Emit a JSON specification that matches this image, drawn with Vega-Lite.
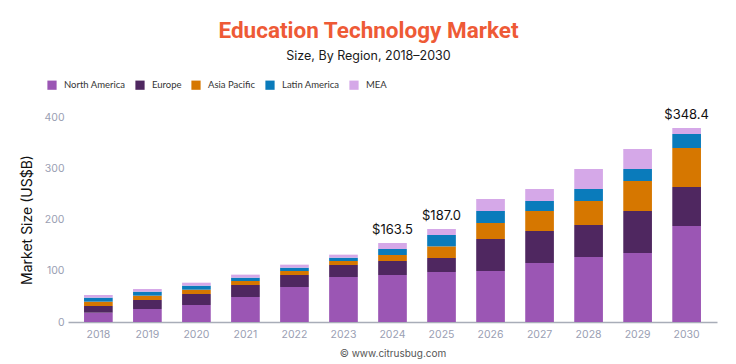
{
  "$schema": "https://vega.github.io/schema/vega-lite/v6.json",
  "width": 649,
  "height": 205,
  "autosize": {"type": "none"},
  "padding": {"left": 68, "top": 117, "right": 19, "bottom": 42},
  "background": "white",
  "config": {"view": {"stroke": null}, "font": "Inter"},
  "title": {
    "text": "Education Technology Market",
    "subtitle": "Size, By Region, 2018–2030",
    "anchor": "middle",
    "dx": -24,
    "offset": 18,
    "font": "Roboto",
    "fontSize": 22.5,
    "fontWeight": 700,
    "color": "#ee5a36",
    "subtitleFont": "Inter",
    "subtitleFontSize": 12.5,
    "subtitleColor": "#1a1a1a",
    "subtitlePadding": 7
  },
  "datasets": {
    "bars": [
      {"year": "2018", "region": "North America", "ord": 1, "value": 18.2},
      {"year": "2018", "region": "Europe", "ord": 2, "value": 13.0},
      {"year": "2018", "region": "Asia Pacific", "ord": 3, "value": 8.5},
      {"year": "2018", "region": "Latin America", "ord": 4, "value": 7.8},
      {"year": "2018", "region": "MEA", "ord": 5, "value": 5.2},
      {"year": "2019", "region": "North America", "ord": 1, "value": 25.4},
      {"year": "2019", "region": "Europe", "ord": 2, "value": 17.5},
      {"year": "2019", "region": "Asia Pacific", "ord": 3, "value": 8.5},
      {"year": "2019", "region": "Latin America", "ord": 4, "value": 7.8},
      {"year": "2019", "region": "MEA", "ord": 5, "value": 5.2},
      {"year": "2020", "region": "North America", "ord": 1, "value": 33.2},
      {"year": "2020", "region": "Europe", "ord": 2, "value": 21.4},
      {"year": "2020", "region": "Asia Pacific", "ord": 3, "value": 8.5},
      {"year": "2020", "region": "Latin America", "ord": 4, "value": 7.8},
      {"year": "2020", "region": "MEA", "ord": 5, "value": 5.8},
      {"year": "2021", "region": "North America", "ord": 1, "value": 48.8},
      {"year": "2021", "region": "Europe", "ord": 2, "value": 23.4},
      {"year": "2021", "region": "Asia Pacific", "ord": 3, "value": 7.8},
      {"year": "2021", "region": "Latin America", "ord": 4, "value": 6.5},
      {"year": "2021", "region": "MEA", "ord": 5, "value": 5.9},
      {"year": "2022", "region": "North America", "ord": 1, "value": 68.3},
      {"year": "2022", "region": "Europe", "ord": 2, "value": 23.4},
      {"year": "2022", "region": "Asia Pacific", "ord": 3, "value": 7.8},
      {"year": "2022", "region": "Latin America", "ord": 4, "value": 6.5},
      {"year": "2022", "region": "MEA", "ord": 5, "value": 5.9},
      {"year": "2023", "region": "North America", "ord": 1, "value": 87.8},
      {"year": "2023", "region": "Europe", "ord": 2, "value": 23.4},
      {"year": "2023", "region": "Asia Pacific", "ord": 3, "value": 7.8},
      {"year": "2023", "region": "Latin America", "ord": 4, "value": 6.5},
      {"year": "2023", "region": "MEA", "ord": 5, "value": 5.9},
      {"year": "2024", "region": "North America", "ord": 1, "value": 91.7},
      {"year": "2024", "region": "Europe", "ord": 2, "value": 27.3},
      {"year": "2024", "region": "Asia Pacific", "ord": 3, "value": 11.7},
      {"year": "2024", "region": "Latin America", "ord": 4, "value": 11.7},
      {"year": "2024", "region": "MEA", "ord": 5, "value": 11.7},
      {"year": "2025", "region": "North America", "ord": 1, "value": 97.6},
      {"year": "2025", "region": "Europe", "ord": 2, "value": 27.3},
      {"year": "2025", "region": "Asia Pacific", "ord": 3, "value": 22.7},
      {"year": "2025", "region": "Latin America", "ord": 4, "value": 22.2},
      {"year": "2025", "region": "MEA", "ord": 5, "value": 11.7},
      {"year": "2026", "region": "North America", "ord": 1, "value": 99.5},
      {"year": "2026", "region": "Europe", "ord": 2, "value": 62.5},
      {"year": "2026", "region": "Asia Pacific", "ord": 3, "value": 31.2},
      {"year": "2026", "region": "Latin America", "ord": 4, "value": 23.4},
      {"year": "2026", "region": "MEA", "ord": 5, "value": 23.4},
      {"year": "2027", "region": "North America", "ord": 1, "value": 115.1},
      {"year": "2027", "region": "Europe", "ord": 2, "value": 62.5},
      {"year": "2027", "region": "Asia Pacific", "ord": 3, "value": 39.0},
      {"year": "2027", "region": "Latin America", "ord": 4, "value": 19.5},
      {"year": "2027", "region": "MEA", "ord": 5, "value": 23.4},
      {"year": "2028", "region": "North America", "ord": 1, "value": 126.8},
      {"year": "2028", "region": "Europe", "ord": 2, "value": 62.5},
      {"year": "2028", "region": "Asia Pacific", "ord": 3, "value": 46.8},
      {"year": "2028", "region": "Latin America", "ord": 4, "value": 23.4},
      {"year": "2028", "region": "MEA", "ord": 5, "value": 39.0},
      {"year": "2029", "region": "North America", "ord": 1, "value": 134.6},
      {"year": "2029", "region": "Europe", "ord": 2, "value": 82.0},
      {"year": "2029", "region": "Asia Pacific", "ord": 3, "value": 58.5},
      {"year": "2029", "region": "Latin America", "ord": 4, "value": 23.4},
      {"year": "2029", "region": "MEA", "ord": 5, "value": 39.1},
      {"year": "2030", "region": "North America", "ord": 1, "value": 187.3},
      {"year": "2030", "region": "Europe", "ord": 2, "value": 76.1},
      {"year": "2030", "region": "Asia Pacific", "ord": 3, "value": 76.1},
      {"year": "2030", "region": "Latin America", "ord": 4, "value": 27.3},
      {"year": "2030", "region": "MEA", "ord": 5, "value": 11.7}
    ],
    "labels": [
      {"year": "2024", "top": 154.1, "label": "$163.5"},
      {"year": "2025", "top": 181.5, "label": "$187.0"},
      {"year": "2030", "top": 378.5, "label": "$348.4"}
    ]
  },
  "encoding": {
    "x": {
      "field": "year",
      "type": "nominal",
      "sort": null,
      "scale": {"paddingInner": 0.415, "paddingOuter": 0.327},
      "axis": {
        "title": "©  www.citrusbug.com",
        "titleFont": "Inter",
        "titleFontSize": 10,
        "titleFontWeight": "normal",
        "titleColor": "#555555",
        "titlePadding": 9,
        "labelAngle": 0,
        "labelFontSize": 10.5,
        "labelColor": "#9aa0b3",
        "labelPadding": 7,
        "ticks": false,
        "domainColor": "#a8adb8",
        "domainWidth": 1.5
      }
    }
  },
  "layer": [
    {
      "data": {"name": "bars"},
      "mark": {"type": "bar"},
      "encoding": {
        "y": {
          "field": "value",
          "type": "quantitative",
          "aggregate": "sum",
          "scale": {"domain": [0, 400]},
          "axis": {
            "title": "Market Size (US$B)",
            "titleFont": "Inter",
            "titleFontSize": 14,
            "titleFontWeight": "normal",
            "titleColor": "#111111",
            "titlePadding": 9,
            "values": [0, 100, 200, 300, 400],
            "grid": false,
            "domain": false,
            "ticks": false,
            "labelFontSize": 10.5,
            "labelColor": "#9aa0b3",
            "labelPadding": 4
          }
        },
        "color": {
          "field": "region",
          "type": "nominal",
          "scale": {
            "domain": ["North America", "Europe", "Asia Pacific", "Latin America", "MEA"],
            "range": ["#9b56b4", "#4f2760", "#d67700", "#0a7bbb", "#d5a8e8"]
          },
          "legend": {
            "title": null,
            "orient": "none",
            "legendX": -21,
            "legendY": -37,
            "direction": "horizontal",
            "symbolType": "square",
            "symbolSize": 85,
            "symbolStrokeWidth": 0,
            "labelFont": "Lato",
            "labelFontSize": 9.5,
            "labelColor": "#333333",
            "labelOffset": 7,
            "columnPadding": 9
          }
        },
        "order": {"field": "ord", "type": "quantitative"}
      }
    },
    {
      "data": {"name": "labels"},
      "mark": {"type": "text", "baseline": "bottom", "dy": -6, "fontSize": 13, "font": "Inter", "color": "#111111"},
      "encoding": {
        "y": {"field": "top", "type": "quantitative"},
        "text": {"field": "label"}
      }
    }
  ]
}
